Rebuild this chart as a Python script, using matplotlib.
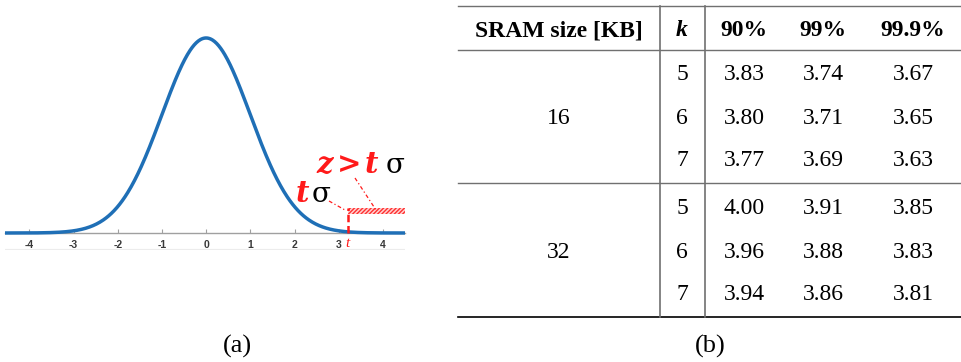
import numpy as np
import matplotlib
matplotlib.use("Agg")
import matplotlib.pyplot as plt
from matplotlib.patches import Rectangle

# left panel: standard normal with a tail threshold
t_thr = 3.2
x_ticks = [-4, -3, -2, -1, 0, 1, 2, 3, 4]

# right panel: table of t values
sram_sizes = ["16", "32"]
k_values = ["5", "6", "7"]
col_heads = ["90%", "99%", "99.9%"]
t_16 = [["3.83", "3.74", "3.67"],
        ["3.80", "3.71", "3.65"],
        ["3.77", "3.69", "3.63"]]
t_32 = [["4.00", "3.91", "3.85"],
        ["3.96", "3.88", "3.83"],
        ["3.94", "3.86", "3.81"]]

W, H = 962, 362
fig = plt.figure(figsize=(W / 100, H / 100), dpi=100)

# gaussian axes, placed in pixels
ax = fig.add_axes([5 / W, (H - 250) / H, 400 / W, 230 / H])
xs = np.linspace(-4.6, 4.6, 600)
pdf = np.exp(-xs ** 2 / 2) / np.sqrt(2 * np.pi)
ax.plot(xs, pdf, color="#1f6fb6", lw=2.5, solid_capstyle="butt", zorder=3)
ax.set_xlim(-4.55, 4.5)
per_px = pdf.max() / 195
ax.set_ylim(-17 * per_px, 0.3989 + 18 * per_px)

for s in ["top", "right", "left"]:
    ax.spines[s].set_visible(False)
ax.spines["bottom"].set_position(("data", 0))
ax.spines["bottom"].set_color("#a0a0a0")
ax.spines["bottom"].set_linewidth(1.0)
ax.set_yticks([])
ax.set_xticks(x_ticks)
ax.set_xticklabels([str(v) for v in x_ticks])
ax.tick_params(axis="x", direction="in", length=3, width=0.8, color="#a0a0a0",
               pad=5, labelsize=7.5, labelcolor="#383838")
for lab in ax.get_xticklabels():
    lab.set_fontweight("bold")
    lab.set_family("Liberation Sans")
ax.axhline(-16.5 * per_px, color="#ececec", lw=0.8)

# tail region and threshold marker
y_lo, y_hi = 19 * per_px, 25 * per_px
ax.add_patch(Rectangle((t_thr, y_lo), 2.0, y_hi - y_lo, facecolor="#ffd0d0",
                       edgecolor="#ff3030", hatch="////////", lw=0, zorder=2))
ax.plot([t_thr, t_thr], [0, y_hi], color="#ff1a1a", lw=1.8, ls=(0, (3, 1.5)), zorder=4)
ax.text(t_thr, -11 * per_px, "t", color="#ff1a1a", fontsize=11, style="italic",
        family="Liberation Serif", ha="center", va="center")

# overlay in pixel coordinates for annotations and the table
ov = fig.add_axes([0, 0, 1, 1], facecolor="none")
ov.set_xlim(0, W)
ov.set_ylim(H, 0)
ov.axis("off")

red = "#ff1a1a"
bi = dict(family="DejaVu Serif", fontweight="bold", style="italic", color=red,
          fontsize=21, ha="center", va="baseline")
sg = dict(family="DejaVu Serif", color="black", fontsize=20, ha="center", va="baseline")
ov.text(302, 202, "t", **bi)
ov.text(321, 202, "σ", **sg)
ov.text(325, 173, "z", **bi)
ov.text(349, 173, ">", **dict(bi, style="normal"))
ov.text(371, 173, "t", **bi)
ov.text(395, 173, "σ", **sg)
ov.plot([329, 345], [201, 210], color=red, lw=0.9, ls=(0, (3, 2, 1, 2)))
ov.plot([355, 376], [178, 210], color=red, lw=0.9, ls=(0, (3, 2, 1, 2)))

# table
serif = "Liberation Serif"
fs = 17
xl, xr = 458, 962
v1, v2 = 660, 705
col_x = [559, 682, 744, 823, 913]
gray = "#707070"
ov.plot([xl, xr], [6, 6], color=gray, lw=1.0)
ov.plot([xl, xr], [50, 50], color=gray, lw=1.0)
ov.plot([xl, xr], [183, 183], color=gray, lw=1.0)
ov.plot([xl, xr], [317, 317], color="black", lw=1.2)
ov.plot([v1, v1], [6, 317], color=gray, lw=1.2)
ov.plot([v2, v2], [6, 317], color=gray, lw=1.2)

ov.text(col_x[0], 31, "SRAM size [KB]", family=serif, fontweight="bold", fontsize=fs,
        ha="center", va="center")
ov.text(col_x[1], 31, "k", family=serif, fontweight="bold", style="italic", fontsize=fs,
        ha="center", va="center")
for cx, h in zip(col_x[2:], col_heads):
    ov.text(cx, 31, h, family=serif, fontweight="bold", fontsize=fs, ha="center", va="center")

row_y = [[75, 118, 161], [208, 252, 295]]
for size, rows, ys in zip(sram_sizes, [t_16, t_32], row_y):
    ov.text(col_x[0], ys[1], size, family=serif, fontsize=fs, ha="center", va="center")
    for k, vals, y in zip(k_values, rows, ys):
        ov.text(col_x[1], y, k, family=serif, fontsize=fs, ha="center", va="center")
        for cx, v in zip(col_x[2:], vals):
            ov.text(cx, y, v, family=serif, fontsize=fs, ha="center", va="center")

ov.text(237, 346, "(a)", family=serif, fontsize=19, ha="center", va="center")
ov.text(710, 346, "(b)", family=serif, fontsize=19, ha="center", va="center")

fig.savefig("out.png", dpi=100)
